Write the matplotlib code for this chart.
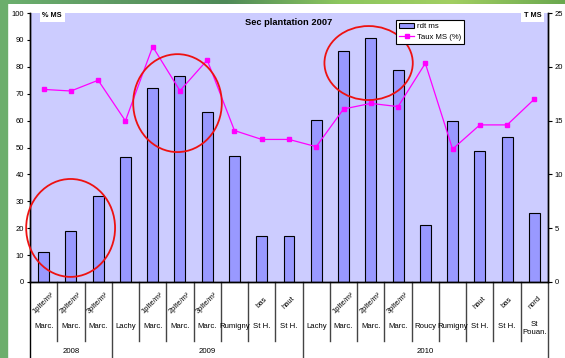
import numpy as np
import matplotlib
matplotlib.use('Agg')
import matplotlib.pyplot as plt
from matplotlib.patches import Ellipse, Rectangle
from matplotlib.lines import Line2D
from matplotlib.colors import LinearSegmentedColormap

plt.rcParams['font.family'] = ['Liberation Sans', 'DejaVu Sans']

# plantations: year / site / density
years = ['2008', '2009', '2010']
year_counts = [3, 7, 9]
sites = ['Marc.', 'Marc.', 'Marc.', 'Lachy', 'Marc.', 'Marc.', 'Marc.', 'Rumigny',
         'St H.', 'St H.', 'Lachy', 'Marc.', 'Marc.', 'Marc.', 'Roucy', 'Rumigny',
         'St H.', 'St H.', 'St\nPouan.']
densities = ['1plte/m²', '2plte/m²', '3plte/m²', '', '1plte/m²', '2plte/m²', '3plte/m²', '',
             'bas', 'haut', '', '1plte/m²', '2plte/m²', '3plte/m²', '', '',
             'haut', 'bas', 'nord']
rdt_ms = [2.8, 4.7, 8.0, 11.65, 18.05, 19.1, 15.8, 11.7, 4.25, 4.25,
          15.05, 21.5, 22.65, 19.7, 5.3, 15.0, 12.2, 13.5, 6.45]
taux_ms = [71.6, 71.0, 75.0, 59.9, 87.5, 71.1, 82.5, 56.3, 53.0, 53.0,
           50.3, 64.3, 66.4, 65.2, 81.3, 49.4, 58.4, 58.4, 68.0]

W, H = 565, 358
fig = plt.figure(figsize=(W / 100, H / 100), dpi=100, facecolor='white')

# green slide background around the chart
fig.patches.append(Rectangle((0, 0), 7 / W, 1, transform=fig.transFigure,
                             color='#6cae6c', zorder=0))
band = fig.add_axes([0, 1 - 4 / H, 1, 4 / H])
band.imshow(np.linspace(0, 1, 256)[None, :], aspect='auto',
            cmap=LinearSegmentedColormap.from_list(
                'slide', ['#6cb06e', '#5e9a63', '#4f8a58', '#8cc65e', '#a2cf62', '#6aa84f']))
band.axis('off')

x0, x1, y0, y1 = 30, 548, 282, 13
ax = fig.add_axes([x0 / W, (H - y0) / H, (x1 - x0) / W, (y0 - y1) / H])
ax.set_facecolor('#ccccff')
n = len(rdt_ms)
x = np.arange(n)

bars = ax.bar(x, rdt_ms, width=0.4, color='#9999ff', edgecolor='black',
              linewidth=0.8, label='rdt ms', zorder=2)
ax.set_xlim(-0.5, n - 0.5)
ax.set_ylim(0, 25)
ax.set_yticks(np.arange(0, 26, 5))
ax.set_xticks([])

ax2 = ax.twinx()
line, = ax2.plot(x, taux_ms, color='#ff00ff', lw=0.9, marker='s', markersize=3.2,
                 label='Taux MS (%)', zorder=3)
ax2.set_ylim(0, 100)
ax2.set_yticks(np.arange(0, 101, 10))

# tonnes on the right, percentage on the left
ax.yaxis.tick_right()
ax2.yaxis.tick_left()
ax.tick_params(axis='y', direction='out', length=3, width=0.8, pad=2,
               labelsize=5.5, colors='black')
ax2.tick_params(axis='y', direction='out', length=2.5, width=0.8, pad=2,
                labelsize=5.5, colors='black')

for a in (ax, ax2):
    a.spines['top'].set_visible(False)
    for s in ('left', 'right', 'bottom'):
        a.spines[s].set_linewidth(1.0)
        a.spines[s].set_color('black')

# circled groups
for cx, cy, w, h in [(0.99, 20.1, 3.26, 36.4), (4.91, 66.5, 3.25, 36.4),
                     (11.92, 81.4, 3.24, 27.5)]:
    ax2.add_patch(Ellipse((cx, cy), w, h, fill=False, edgecolor='#ee1111',
                          lw=1.3, zorder=5, clip_on=False))

ax2.text(0.5, 0.966, 'Sec plantation 2007', transform=ax2.transAxes,
         ha='center', va='center', fontsize=6.7, fontweight='bold')
ax2.text(0.043, 0.99, '% MS', transform=ax2.transAxes, ha='center', va='center',
         fontsize=5.3, fontweight='bold',
         bbox=dict(facecolor='white', edgecolor='none', pad=1.8))
ax2.text(0.970, 0.99, 'T MS', transform=ax2.transAxes, ha='center', va='center',
         fontsize=5.3, fontweight='bold',
         bbox=dict(facecolor='white', edgecolor='none', pad=1.8))

leg = ax2.legend(handles=[bars, line], loc='upper left',
                 bbox_to_anchor=(0.7066, 0.974), borderaxespad=0, fontsize=5.6,
                 fancybox=False, framealpha=1, edgecolor='black',
                 handlelength=2.0, handletextpad=0.3, borderpad=0.35,
                 labelspacing=0.45)
leg.get_frame().set_linewidth(0.8)

# multi-level category axis
tr = ax.get_xaxis_transform()
for i in range(n):
    if densities[i]:
        ax.text(i, -0.078, densities[i], transform=tr, rotation=45,
                rotation_mode='anchor', ha='center', va='center', fontsize=5.4)
    ax.text(i, -0.172 if '\n' in sites[i] else -0.166, sites[i], transform=tr,
            ha='center', va='center', fontsize=5.6, linespacing=1.1)

bounds = np.cumsum([0] + year_counts)
for b in range(n + 1):
    full = b in bounds
    ax.add_line(Line2D([b - 0.5, b - 0.5], [0, -0.29 if full else -0.218],
                       transform=tr, color='black' if b == 0 else '#444444',
                       lw=1.0, clip_on=False))
for yr, a, b in zip(years, bounds[:-1], bounds[1:]):
    ax.text((a + b - 1) / 2, -0.259, yr, transform=tr, ha='center', va='center',
            fontsize=5.6)

fig.savefig('out.png', dpi=100)
